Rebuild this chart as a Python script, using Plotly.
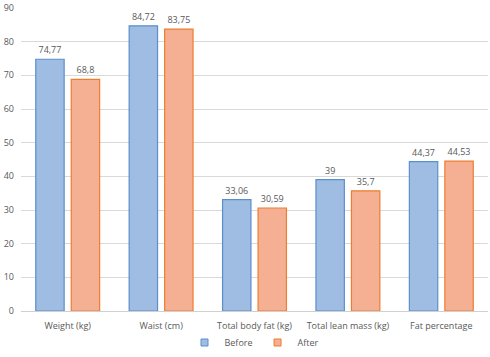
import plotly.graph_objects as go

categories = ["Weight (kg)", "Waist (cm)", "Total body fat (kg)", "Total lean mass (kg)", "Fat percentage"]
before = [74.77, 84.72, 33.06, 39, 44.37]
after = [68.8, 83.75, 30.59, 35.7, 44.53]
y_ticks = [0, 10, 20, 30, 40, 50, 60, 70, 80, 90]

def fmt(vals):
    return [str(v).replace(".", ",") for v in vals]

grey = "#595959"
series = [("Before", before, "#9fbce3", "#5b8fcc"), ("After", after, "#f5b093", "#ed7d31")]
fig = go.Figure()
for name, vals, fill, edge in series:
    fig.add_trace(go.Bar(
        name=name, x=categories, y=vals, text=fmt(vals),
        textposition="outside", cliponaxis=False, showlegend=False,
        textfont=dict(size=9, color=grey),
        marker=dict(color=fill, line=dict(color=edge, width=1.2)),
    ))
for name, vals, fill, edge in series:
    fig.add_trace(go.Scatter(
        name=name, x=[None], y=[None], mode="markers",
        marker=dict(symbol="square", size=7, color=fill, line=dict(color=edge, width=1)),
    ))
fig.update_layout(
    width=490, height=357,
    margin=dict(l=21, r=2, t=8, b=46, autoexpand=False),
    paper_bgcolor="white", plot_bgcolor="white",
    barmode="group", bargap=0.24, bargroupgap=0.2,
    font=dict(family="Open Sans, Liberation Sans, sans-serif", size=9, color=grey),
    showlegend=True,
    legend=dict(orientation="h", x=0.5, xanchor="center", yref="container", y=-0.012,
                yanchor="bottom", bgcolor="rgba(0,0,0,0)",
                font=dict(size=9, color=grey), itemwidth=30, traceorder="normal"),
    uniformtext=dict(minsize=9, mode="show"),
)
fig.update_yaxes(range=[0, 90], tickvals=y_ticks, showgrid=True, gridcolor="#d9d9d9",
                 gridwidth=1, zeroline=False, showline=False, ticks="", ticklabelstandoff=6,
                 automargin=False, tickfont=dict(size=9, color=grey))
fig.update_xaxes(showline=True, linecolor="#d0d0d0", linewidth=1, ticks="", automargin=False,
                 tickfont=dict(size=9, color=grey), ticklabelstandoff=6)
fig.write_html("out.html", config={"displayModeBar": False},
               post_script="document.body.style.margin='0';")
